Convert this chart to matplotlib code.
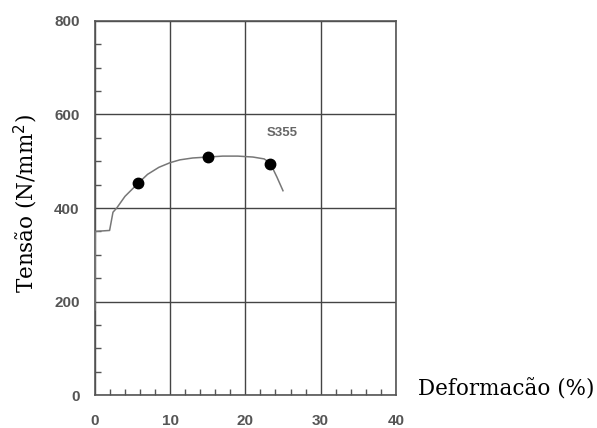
import numpy as np
import matplotlib.pyplot as plt
from matplotlib.ticker import MultipleLocator

# curva tensão-deformação do aço S355
deform = [0, 0.05, 1.95, 2.4, 2.9, 4.0, 5.75, 7.0, 8.5, 10.0, 11.3, 13.0, 15.0,
          17.0, 19.0, 21.0, 22.5, 23.3, 24.2, 25.0]
tensao = [182, 350, 352, 391, 400, 425, 453, 472, 487, 497, 503, 507, 509,
          511, 511, 509, 505, 496, 466, 437]

# pontos marcados
pts_x = [5.75, 15.0, 23.3]
pts_y = [453, 509, 494]

fig = plt.figure(figsize=(5.97, 4.28), dpi=100)
ax = fig.add_axes([0.159, 0.077, 0.504, 0.874])

ax.plot(deform, tensao, color='#777777', lw=1.1, zorder=3)
ax.plot(pts_x, pts_y, 'o', color='black', ms=7.5, zorder=4)
ax.text(22.8, 560, 'S355', fontsize=9.5, color='#666666', fontweight='bold',
        family='Liberation Sans', va='center')

ax.set_xlim(0, 40)
ax.set_ylim(0, 800)
ax.xaxis.set_major_locator(MultipleLocator(10))
ax.xaxis.set_minor_locator(MultipleLocator(2))
ax.yaxis.set_major_locator(MultipleLocator(200))
ax.yaxis.set_minor_locator(MultipleLocator(50))

ax.grid(True, which='major', color='#444444', lw=1.0)
ax.set_axisbelow(True)
for s in ax.spines.values():
    s.set_color('#555555')
    s.set_linewidth(1.2)

ax.tick_params(which='both', direction='in', color='#555555')
ax.tick_params(which='major', length=0)
ax.tick_params(axis='x', which='major', pad=14)
ax.tick_params(axis='y', which='major', pad=11)
ax.tick_params(which='minor', length=4, width=1)
for lab in ax.get_xticklabels() + ax.get_yticklabels():
    lab.set_fontfamily('Liberation Sans')
    lab.set_fontweight('bold')
    lab.set_fontsize(11)
    lab.set_color('#555555')

ax.set_ylabel('Tensão (N/mm$^2$)', family='DejaVu Serif', fontsize=15.5)
ax.yaxis.set_label_coords(-0.182, 0.513)
fig.text(0.700, 0.091, 'Deformacão (%)', family='DejaVu Serif', fontsize=15.5,
         ha='left', va='center')

fig.savefig('out.png', dpi=100)
